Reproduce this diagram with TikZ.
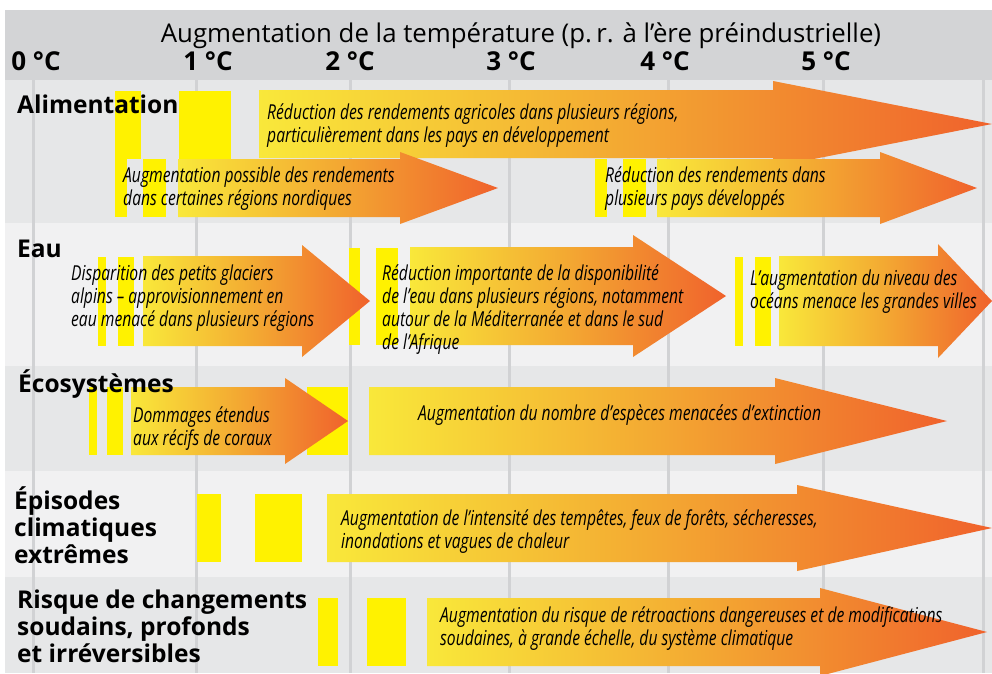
\documentclass[tikz,border=0pt]{standalone}
\usepackage{fontspec}
\setmainfont{Open Sans}
\newfontfamily\arrowfont{Open Sans}[FakeStretch=0.76]
\definecolor{hdr}{RGB}{211,212,214}
\definecolor{rowa}{RGB}{230,231,232}
\definecolor{rowb}{RGB}{241,241,242}
\definecolor{gridc}{RGB}{209,210,212}
\definecolor{bary}{RGB}{255,242,0}
\definecolor{ay}{RGB}{249,232,58}
\definecolor{am}{RGB}{243,168,50}
\definecolor{ar}{RGB}{240,98,44}
\newcommand\li[1]{\hbox{#1}}
% x0, xhead, xtip, ytop, ybottom, head overhang
\newcommand\flecha[6]{\shade[arrowshade] (#1,#4) -- (#2,#4) -- (#2,#4-#6) -- (#3,{(#4+#5)/2}) -- (#2,#5+#6) -- (#2,#5) -- (#1,#5) -- cycle;}
\newcommand\barre[4]{\fill[bary] (#1,#2) rectangle (#3,#4);}
\begin{document}
\begin{tikzpicture}[x=1pt,y=-1pt,
  arrowshade/.style={left color=ay, right color=ar, middle color=am},
  gridline/.style={draw=gridc, line width=3pt},
  atext/.style={anchor=base west, inner sep=0pt, font=\arrowfont\itshape\fontsize{20.6}{23.3}\selectfont},
  rowlabel/.style={anchor=base west, inner sep=0pt, font=\bfseries\fontsize{24.5}{27.3}\selectfont},
  deglabel/.style={anchor=base, inner sep=0pt, font=\bfseries\fontsize{26}{28}\selectfont},
  titlelabel/.style={anchor=base, inner sep=0pt, font=\fontsize{25.8}{28}\selectfont}]
\useasboundingbox (0,0) rectangle (992,673);
\begin{scope}
\clip (0,0) rectangle (992,673);
% backgrounds
\fill[hdr] (5,10) rectangle (992,80);
\fill[rowa] (5,80) rectangle (992,223);
\fill[rowb] (5,223) rectangle (992,366);
\fill[rowa] (5,366) rectangle (992,471);
\fill[rowb] (5,471) rectangle (992,577);
\fill[rowa] (5,577) rectangle (992,673);
% grid
\foreach \x in {33,196,350,509,668,823,983} \draw[gridline] (\x,80) -- (\x,673);
% yellow bars
\barre{115}{91}{141}{159}
\barre{179}{91}{231}{159}
\barre{115}{159}{127}{217}
\barre{143}{159}{166}{217}
\barre{595}{159}{607}{217}
\barre{623}{159}{646}{217}
\barre{98}{257}{106}{346}
\barre{118}{257}{134}{346}
\barre{349}{248}{360}{345}
\barre{376}{248}{398}{345}
\barre{735}{257}{743}{346}
\barre{755}{257}{771}{346}
\barre{89}{387}{97}{455}
\barre{107}{387}{123}{455}
\barre{307}{387}{348}{455}
\barre{197}{494}{221}{562}
\barre{255}{494}{302}{562}
\barre{318}{598}{338}{666}
\barre{367}{598}{406}{666}
% arrows
\flecha{259}{773}{992}{90}{158}{9}
\flecha{178}{400}{498}{159}{217}{7}
\flecha{657}{880}{977}{159}{217}{7}
\flecha{143}{302}{370}{256}{346}{11}
\flecha{410}{633}{726}{247}{345}{12}
\flecha{779}{938}{992}{256}{346}{12}
\flecha{131}{285}{348}{387}{455}{9}
\flecha{369}{775}{947}{387}{455}{9}
\flecha{327}{797}{992}{494}{562}{9}
\flecha{427}{820}{987}{598}{666}{10}
\end{scope}
% header
\node[titlelabel] (title) at (521,42) {Augmentation de la température (p.\,r. à l’ère préindustrielle)};
\node[deglabel] (d0) at (36,70) {0 °C};
\node[deglabel] (d1) at (208,70) {1 °C};
\node[deglabel] (d2) at (350,70) {2 °C};
\node[deglabel] (d3) at (511,70) {3 °C};
\node[deglabel] (d4) at (665,70) {4 °C};
\node[deglabel] (d5) at (826,70) {5 °C};
% row labels
\node[rowlabel] (alim) at (17,113) {Alimentation};
\node[rowlabel] (eau) at (17,257) {Eau};
\node[rowlabel] (eco) at (18,392) {Écosystèmes};
\node[rowlabel] (epi) at (14,509) {\vtop{\li{Épisodes}\li{climatiques}\li{extrêmes}}};
\node[rowlabel] (risq) at (17,608) {\vtop{\li{Risque de changements}\li{soudains, profonds}\li{et irréversibles}}};
% arrow texts
\node[atext] (ta1) at (267,119) {\vtop{\li{Réduction des rendements agricoles dans plusieurs régions,}\li{particulièrement dans les pays en développement}}};
\node[atext] (ta2) at (123,182) {\vtop{\li{Augmentation possible des rendements}\li{dans certaines régions nordiques}}};
\node[atext] (ta3) at (605,182) {\vtop{\li{Réduction des rendements dans}\li{plusieurs pays développés}}};
\node[atext] (te1) at (71,280) {\vtop{\li{Disparition des petits glaciers}\li{alpins – approvisionnement en}\li{eau menacé dans plusieurs régions}}};
\node[atext] (te2) at (382,280) {\vtop{\li{Réduction importante de la disponibilité}\li{de l’eau dans plusieurs régions, notamment}\li{autour de la Méditerranée et dans le sud}\li{de l’Afrique}}};
\node[atext] (te3) at (750,285) {\vtop{\li{L’augmentation du niveau des}\li{océans menace les grandes villes}}};
\node[atext] (tc1) at (133,422) {\vtop{\li{Dommages étendus}\li{aux récifs de coraux}}};
\node[atext] (tc2) at (418,420) {Augmentation du nombre d’espèces menacées d’extinction};
\node[atext] (tp) at (341,525) {\vtop{\li{Augmentation de l’intensité des tempêtes, feux de forêts, sécheresses,}\li{inondations et vagues de chaleur}}};
\node[atext] (tr) at (440,622) {\vtop{\li{Augmentation du risque de rétroactions dangereuses et de modifications}\li{soudaines, à grande échelle, du système climatique}}};
\end{tikzpicture}
\end{document}
